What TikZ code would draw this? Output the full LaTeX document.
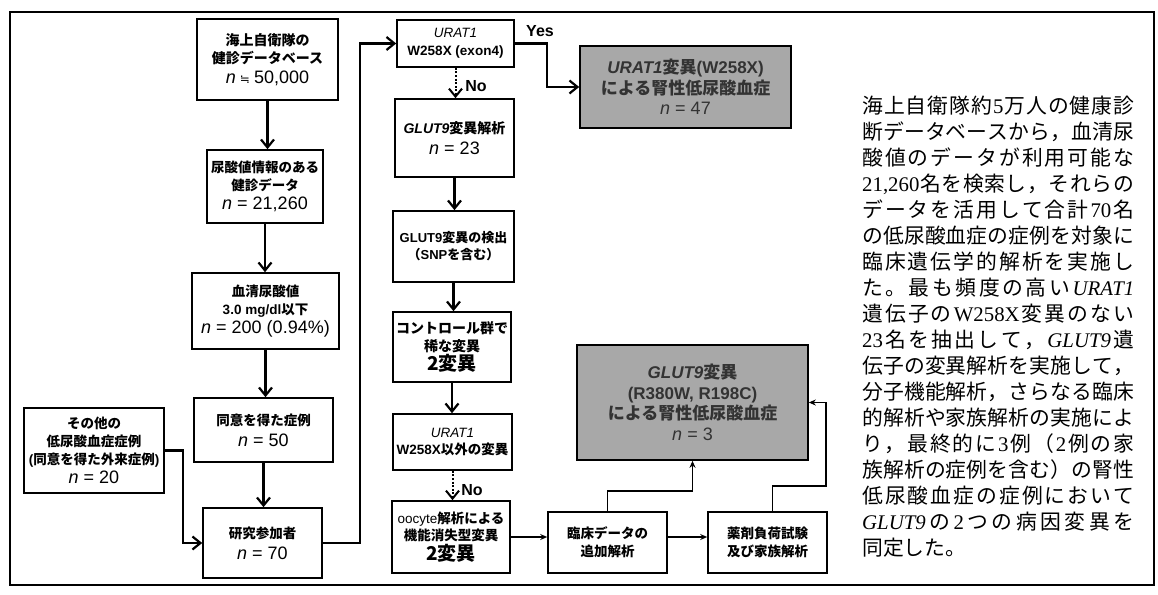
\documentclass[tikz,border=0pt]{standalone}
\usepackage{fontspec}
\setmainfont{Noto Sans CJK JP}
\newfontfamily\arl{Liberation Sans}
\newfontfamily\tms{Liberation Serif}
\newfontfamily\dvs{DejaVu Sans}
\usetikzlibrary{arrows.meta,calc}
\definecolor{gfill}{gray}{0.66}
\definecolor{gtext}{gray}{0.2}
\newcommand{\alat}[1]{{\arl #1}}
\newcommand{\nl}[1]{{\fontsize{18}{21}\selectfont\arl\mdseries\textit{n} #1}}
\makeatletter
\def\spr@end{}
\def\spr@endmark{\spr@end}
\def\spr#1{\spr@first#1\spr@end}
\def\spr@first#1{{#1}\spr@next}
\def\spr@next#1{\def\spr@tmp{#1}\ifx\spr@tmp\spr@endmark\else\hfil{#1}\expandafter\spr@next\fi}
\makeatother
\newcommand{\jline}[1]{\makebox[272pt][s]{\spr{#1}}}
\begin{document}
\begin{tikzpicture}[x=1pt,y=-1pt,
  wbox/.style={draw, line width=1.6pt, fill=white, inner sep=0pt, align=center, font=\fontsize{13.5}{18}\selectfont\bfseries},
  mbox/.style={draw, line width=1.6pt, fill=white, inner sep=0pt, align=center, font=\fontsize{13}{17}\selectfont\bfseries},
  gbox/.style={draw, line width=1.6pt, fill=gfill, inner sep=0pt, align=center, text=gtext, font=\fontsize{17}{20.5}\selectfont\bfseries},
  arr/.style={line width=2.2pt, -{Straight Barb[length=8pt,width=13pt]}},
  dotarr/.style={line width=2pt, dash pattern=on 2pt off 1.6pt, -{Straight Barb[length=8pt,width=13pt]}},
  thinarr/.style={line width=1.8pt, -{Stealth[length=7pt,width=6pt]}},
  lbl/.style={font=\fontsize{16}{18}\selectfont\arl\bfseries, inner sep=0pt},
  body/.style={anchor=base west, inner sep=0pt, font=\fontsize{20.8}{26}\selectfont\mdseries},
]
\useasboundingbox (0,0) rectangle (1158,594);
\fill[white] (0,0) rectangle (1158,594);
\draw[line width=1.5pt] (10,12) rectangle (1154,585);

% left column
\node[wbox, minimum width=141pt, minimum height=81pt, font=\fontsize{14}{18.5}\selectfont\bfseries] (b1) at (267.5,59.5)
  {海上自衛隊の\\健診データベース\\[1pt]{\fontsize{18}{21}\selectfont\mdseries{\arl\itshape n} {\dvs\fontsize{12}{14}\selectfont ≒} \alat{50,000}}};
\node[wbox, minimum width=116pt, minimum height=73pt] (b2) at (265,186.5)
  {尿酸値情報のある\\健診データ\\[1pt]\nl{= 21,260}};
\node[wbox, minimum width=147pt, minimum height=76pt] (b3) at (265.5,311)
  {血清尿酸値\\{\alat{3.0 mg/dl}}以下\\[1pt]\nl{= 200 (0.94\%)}};
\node[wbox, minimum width=139pt, minimum height=64pt] (b4) at (263.5,430)
  {同意を得た症例\\[3pt]\nl{= 50}};
\node[wbox, minimum width=119pt, minimum height=70pt] (b5) at (262.5,543)
  {研究参加者\\[3pt]\nl{= 70}};
\node[wbox, minimum width=140pt, minimum height=85pt] (b6) at (94,450.5)
  {その他の\\低尿酸血症症例\\\alat{(}同意を得た外来症例\alat{)}\\[1pt]\nl{= 20}};

% middle column
\node[mbox, minimum width=117pt, minimum height=47pt, font=\fontsize{13.5}{17.5}\selectfont\bfseries] (m1) at (455.5,43.5)
  {{\arl\mdseries\itshape URAT1}\\{\arl W258X (exon4)}};
\node[mbox, minimum width=119pt, minimum height=78pt, font=\fontsize{14}{18}\selectfont\bfseries] (m2) at (454.5,138)
  {{\arl\itshape GLUT9}変異解析\\[3pt]\nl{= 23}};
\node[mbox, minimum width=121pt, minimum height=71pt] (m3) at (453.5,246.5)
  {\alat{GLUT9}変異の検出\\（\alat{SNP}を含む）};
\node[mbox, minimum width=118pt, minimum height=70pt, font=\fontsize{14}{18}\selectfont\bfseries] (m4) at (452,347)
  {コントロール群で\\稀な変異\\[1pt]{\fontsize{19}{22}\selectfont 2変異}};
\node[mbox, minimum width=119pt, minimum height=56pt, font=\fontsize{13.5}{17.5}\selectfont\bfseries] (m5) at (452.5,442)
  {{\arl\mdseries\itshape URAT1}\\\alat{W258X}以外の変異};
\node[mbox, minimum width=118pt, minimum height=72pt, font=\fontsize{13.5}{17.5}\selectfont\bfseries] (m6) at (451,537)
  {{\arl\mdseries oocyte}解析による\\機能消失型変異\\[1pt]{\fontsize{19}{22}\selectfont 2変異}};

% result boxes
\node[gbox, minimum width=211pt, minimum height=82pt] (g1) at (685.5,87)
  {{\arl\itshape URAT1}変異\alat{(W258X)}\\による腎性低尿酸血症\\\nl{= 47}};
\node[gbox, minimum width=231pt, minimum height=115pt] (g2) at (692.5,402.5)
  {{\arl\itshape GLUT9}変異\\\alat{(R380W, R198C)}\\による腎性低尿酸血症\\\nl{= 3}};
\node[wbox, minimum width=119pt, minimum height=61pt] (c1) at (607.5,542.5)
  {臨床データの\\追加解析};
\node[wbox, minimum width=119pt, minimum height=61pt] (c2) at (767.5,542.5)
  {薬剤負荷試験\\及び家族解析};

% labels
\node[lbl] (yes) at (540,31) {Yes};
\node[lbl] (no1) at (476,86) {No};
\node[lbl] (no2) at (472,490) {No};

% helper coordinates
\coordinate (k1) at (183,0);
\coordinate (k2) at (360,0);
\coordinate (k3) at (547,0);
\coordinate (k5) at (826,486);

% connectors
\draw[arr] (b1.south) -- (b1.south |- b2.north);
\draw[arr] (b2.south) -- (b2.south |- b3.north);
\draw[arr] (b3.south) -- (b3.south |- b4.north);
\draw[arr] (b4.south) -- (b4.south |- b5.north);
\draw[arr] (b6.east) -| (k1 |- b5.west) -- (b5.west);
\draw[arr] (b5.east) -| (k2 |- m1.west) -- (m1.west);
\draw[arr] (m1.east) -| (k3 |- g1.west) -- (g1.west);
\draw[dotarr] (m1.south) -- (m1.south |- m2.north);
\draw[arr] (m2.south) -- (m2.south |- m3.north);
\draw[arr] (m3.south) -- (m3.south |- m4.north);
\draw[arr] (m4.south) -- (m4.south |- m5.north);
\draw[dotarr] (m5.south) -- (m5.south |- m6.north);
\draw[thinarr, line width=2.2pt] (m6.east) -- (m6.east -| c1.west);
\draw[thinarr, line width=2.2pt] (c1.east |- m6.east) -- (c2.west |- m6.east);
\draw[thinarr] (c1.north) |- ($(g2.south)+(0,30)$) -- (g2.south);
\draw[thinarr] ($(c2.north)+(5,0)$) |- (k5) |- (g2.east);

% explanatory text
\node[body] (t1)  at (862,113.5) {\jline{海上自衛隊約{\tms 5}万人の健康診}};
\node[body] (t2)  at (862,139.5) {\jline{断データベースから，血清尿}};
\node[body] (t3)  at (862,165.5) {\jline{酸値のデータが利用可能な}};
\node[body] (t4)  at (862,191.5) {\jline{{\tms 21,260}名を検索し，それらの}};
\node[body] (t5)  at (862,217.5) {\jline{データを活用して合計{\tms 70}名}};
\node[body] (t6)  at (862,243.5) {\jline{の低尿酸血症の症例を対象に}};
\node[body] (t7)  at (862,269.5) {\jline{臨床遺伝学的解析を実施し}};
\node[body] (t8)  at (862,295.5) {\jline{た。最も頻度の高い{\tms\itshape URAT1}}};
\node[body] (t9)  at (862,321.5) {\jline{遺伝子の{\tms W258X}変異のない}};
\node[body] (t10) at (862,347.5) {\jline{{\tms 23}名を抽出して，{\tms\itshape GLUT9}遺}};
\node[body] (t11) at (862,373.5) {\jline{伝子の変異解析を実施して，}};
\node[body] (t12) at (862,399.5) {\jline{分子機能解析，さらなる臨床}};
\node[body] (t13) at (862,425.5) {\jline{的解析や家族解析の実施によ}};
\node[body] (t14) at (862,451.5) {\jline{り，最終的に{\tms 3}例（{\tms 2}例の家}};
\node[body] (t15) at (862,477.5) {\jline{族解析の症例を含む）の腎性}};
\node[body] (t16) at (862,503.5) {\jline{低尿酸血症の症例において}};
\node[body] (t17) at (862,529.5) {\jline{{\tms\itshape GLUT9}の{\tms 2}つの病因変異を}};
\node[body] (t18) at (862,555.5) {同定した。};
\end{tikzpicture}
\end{document}
